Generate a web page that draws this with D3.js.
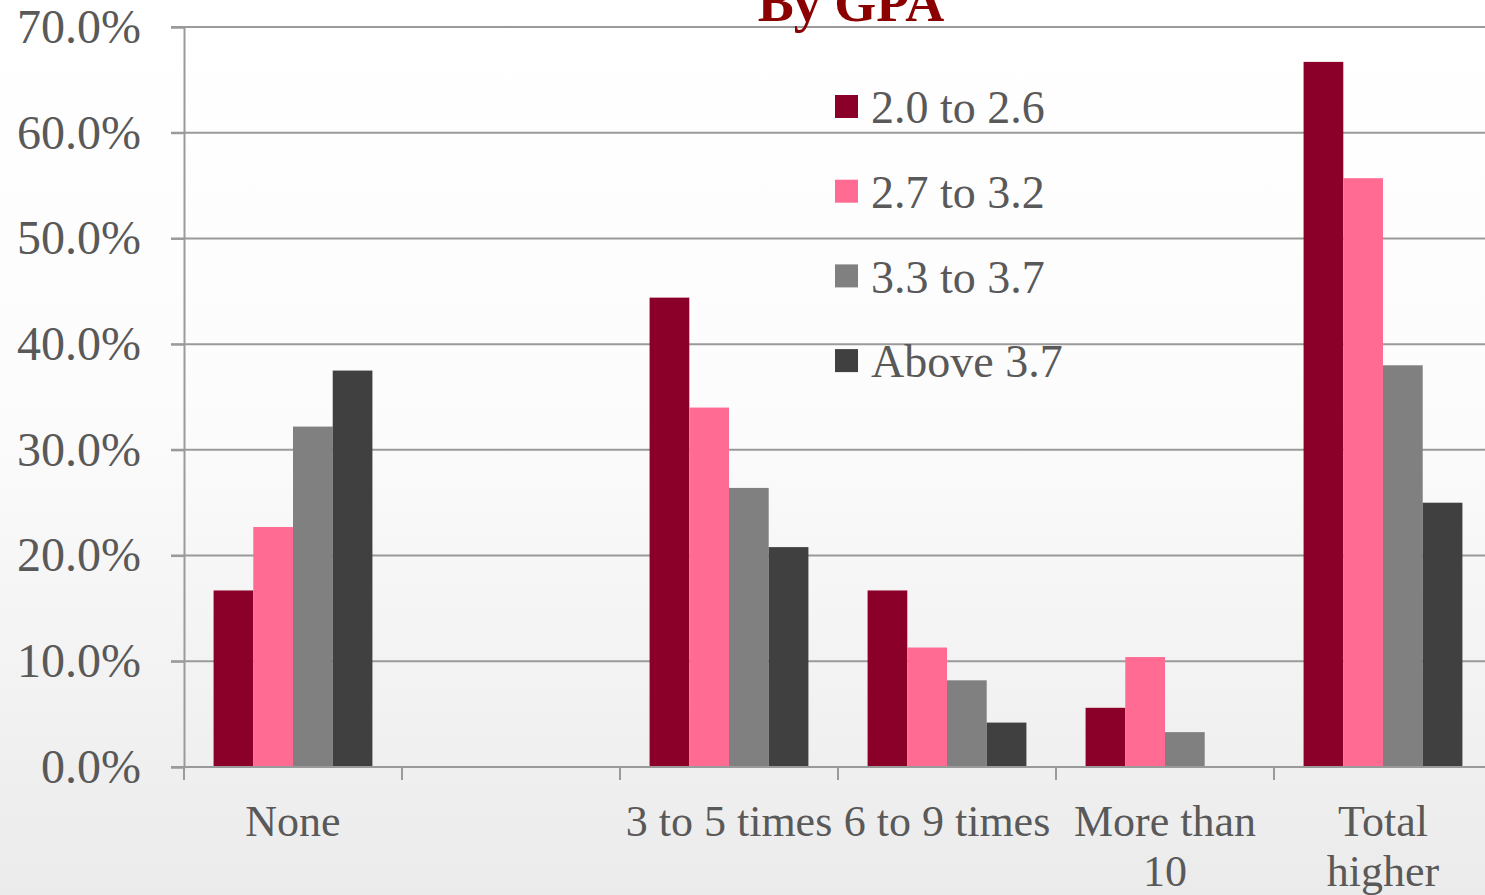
<!DOCTYPE html>
<html>
<head>
<meta charset="utf-8">
<script src="https://cdn.jsdelivr.net/npm/d3@7"></script>
<style>
  body { margin: 0; overflow: hidden; }
  svg { display: block; }
</style>
</head>
<body>
<script>
// data
let categories = ['None', '', '3 to 5 times', '6 to 9 times', 'More than|10', 'Total|higher'];
let seriesNames = ['2.0 to 2.6', '2.7 to 3.2', '3.3 to 3.7', 'Above 3.7'];
let gpa26 = [16.7, 0, 44.4, 16.7, 5.6, 66.7];
let gpa32 = [22.7, 0, 34.0, 11.3, 10.4, 55.7];
let gpa37 = [32.2, 0, 26.4, 8.2, 3.3, 38.0];
let above37 = [37.5, 0, 20.8, 4.2, 0, 25.0];
let yTicks = [0, 10, 20, 30, 40, 50, 60, 70];

let series = [gpa26, gpa32, gpa37, above37];
let colors = ['#8b0029', '#ff6b93', '#808080', '#404040'];

let width = 1485, height = 895;
let margin = { top: 27, bottom: 128, left: 184, right: -7 };
let font = '"Liberation Serif", "DejaVu Serif", serif';
let textColor = '#595959';

let svg = d3.select('body').append('svg')
  .attr('width', width)
  .attr('height', height);

// background gradient
let grad = svg.append('defs').append('linearGradient')
  .attr('id', 'bg').attr('x1', 0).attr('y1', 0).attr('x2', 0).attr('y2', 1);
grad.append('stop').attr('offset', '0%').attr('stop-color', '#ffffff');
grad.append('stop').attr('offset', '45%').attr('stop-color', '#fcfcfc');
grad.append('stop').attr('offset', '100%').attr('stop-color', '#ecebeb');
svg.append('rect').attr('width', width).attr('height', height).attr('fill', 'url(#bg)');

let yScale = d3.scaleLinear()
  .domain([0, 70])
  .range([height - margin.bottom, margin.top]);

let xScale = d3.scaleBand()
  .domain(d3.range(categories.length))
  .range([margin.left, width - margin.right]);

let inner = d3.scaleBand()
  .domain(d3.range(series.length))
  .range([0, xScale.bandwidth()])
  .paddingOuter(0.745)
  .paddingInner(0);

// gridlines
svg.append('g')
  .selectAll('line')
  .data(yTicks.slice(1))
  .join('line')
  .attr('x1', margin.left - 13)
  .attr('x2', width)
  .attr('y1', d => yScale(d))
  .attr('y2', d => yScale(d))
  .attr('stroke', '#9a9a9a')
  .attr('stroke-width', 2);

// title (cut off at top, as in the original)
svg.append('text')
  .attr('x', 851)
  .attr('y', 21)
  .attr('text-anchor', 'middle')
  .style('font-family', font)
  .style('font-weight', 'bold')
  .style('font-size', '54px')
  .attr('fill', '#8b0000')
  .text('By GPA');

// bars
series.forEach((vals, s) => {
  svg.append('g')
    .selectAll('rect')
    .data(vals)
    .join('rect')
    .attr('x', (d, i) => xScale(i) + inner(s))
    .attr('width', inner.bandwidth())
    .attr('y', d => yScale(d))
    .attr('height', d => yScale(0) - yScale(d))
    .attr('fill', colors[s]);
});

// y axis
let yAxis = svg.append('g')
  .attr('transform', `translate(${margin.left}, 0)`)
  .call(d3.axisLeft(yScale).tickValues(yTicks).tickSize(13).tickPadding(30)
    .tickFormat(d => d.toFixed(1) + '%'));
yAxis.select('.domain').attr('stroke', '#9a9a9a').attr('stroke-width', 2);
yAxis.selectAll('.tick line').attr('stroke', '#9a9a9a').attr('stroke-width', 2);
yAxis.selectAll('text')
  .style('font-family', font)
  .style('font-size', '48px')
  .attr('fill', textColor);

// x axis
let xAxisG = svg.append('g')
  .attr('transform', `translate(0, ${yScale(0)})`);
xAxisG.append('line')
  .attr('x1', margin.left - 13).attr('x2', width)
  .attr('stroke', '#9a9a9a').attr('stroke-width', 2);
xAxisG.selectAll('.tick')
  .data(d3.range(categories.length))
  .join('line')
  .attr('class', 'tick')
  .attr('x1', d => xScale(d)).attr('x2', d => xScale(d))
  .attr('y1', 0).attr('y2', 13)
  .attr('stroke', '#9a9a9a').attr('stroke-width', 2);

xAxisG.selectAll('text.lab')
  .data(categories)
  .join('text')
  .attr('class', 'lab')
  .attr('text-anchor', 'middle')
  .attr('transform', (d, i) => `translate(${xScale(i) + xScale.bandwidth() / 2}, 69)`)
  .style('font-family', font)
  .style('font-size', '44px')
  .attr('fill', textColor)
  .each(function (d) {
    let lines = d.split('|');
    d3.select(this).selectAll('tspan')
      .data(lines)
      .join('tspan')
      .attr('x', 0)
      .attr('dy', (l, j) => j === 0 ? 0 : 50)
      .text(l => l);
  });

// legend
let legend = svg.append('g').attr('transform', 'translate(835, 107)');
seriesNames.forEach((name, i) => {
  let g = legend.append('g').attr('transform', `translate(0, ${i * 84.7})`);
  g.append('rect')
    .attr('x', 0).attr('y', -12)
    .attr('width', 23).attr('height', 23)
    .attr('fill', colors[i]);
  g.append('text')
    .attr('x', 36).attr('y', 0)
    .attr('dy', '0.35em')
    .style('font-family', font)
    .style('font-size', '46px')
    .attr('fill', textColor)
    .text(name);
});
</script>
</body>
</html>
